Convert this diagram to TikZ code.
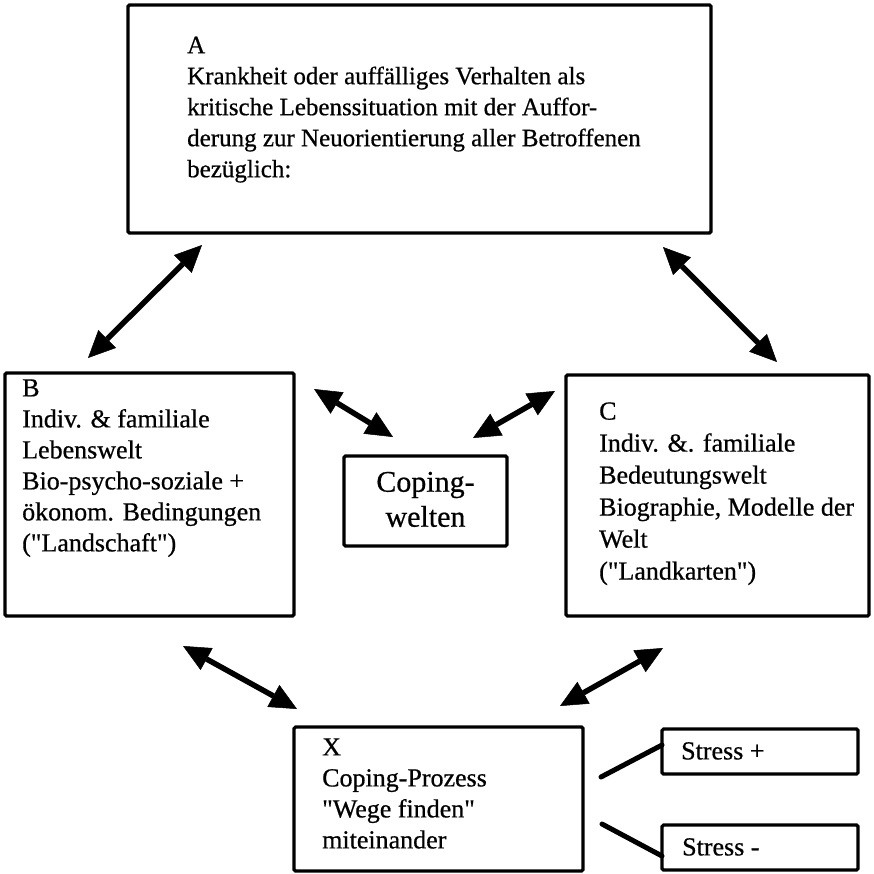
\documentclass[tikz,border=0pt]{standalone}
\usepackage{fontspec}
\setmainfont{Liberation Serif}[Ligatures=TeXOff, FakeBold=0.6]
\usetikzlibrary{arrows.meta}
\begin{document}
\begin{tikzpicture}[x=1pt,y=-1pt,
  box/.style={draw, line width=3.2pt, rounded corners=1.5pt, inner sep=0pt, outer sep=0pt},
  txt/.style={anchor=north west, inner sep=0pt, align=left, font=\fontsize{26}{31}\selectfont},
  txta/.style={txt, font=\fontsize{25}{31}\selectfont},
  txtc/.style={txt, font=\fontsize{26}{32}\selectfont},
  cop/.style={anchor=north, inner sep=0pt, align=center, font=\fontsize{30}{35}\selectfont},
  dbl/.style={line width=5.5pt, {Triangle[length=27pt,width=25pt,line width=0.5pt]}-{Triangle[length=27pt,width=25pt,line width=0.5pt]}},
  lnk/.style={line width=5pt, line cap=round}]
\useasboundingbox (0,0) rectangle (874,874);
\fill[white] (0,0) rectangle (874,874);
% boxes
\node[box, minimum width=583pt, minimum height=228pt] (A) at (419.5,119) {};
\node[box, minimum width=289pt, minimum height=243pt] (B) at (149.5,494.5) {};
\node[box, minimum width=303pt, minimum height=241pt] (C) at (717.5,495.5) {};
\node[box, minimum width=163pt, minimum height=90pt] (Cop) at (425.5,501) {};
\node[box, minimum width=289pt, minimum height=144pt] (X) at (438.5,799) {};
\node[box, minimum width=196pt, minimum height=45pt] (Sp) at (760,751.5) {};
\node[box, minimum width=196pt, minimum height=45pt] (Sm) at (760,847.5) {};
% texts
\node[txta] (At) at (187,31.3) {\strut A\\Krankheit oder auffälliges Verhalten als\\kritische Lebenssituation mit der Auffor-\\derung zur Neuorientierung aller Betroffenen\\bezüglich:};
\node[txt] (Bt) at (22,374.5) {\strut B\\Indiv. \& familiale\\Lebenswelt\\Bio-psycho-soziale +\\ökonom. Bedingungen\\("Landschaft")};
\node[txtc] (Ct) at (599,397) {\strut C\\Indiv. \&. familiale\\Bedeutungswelt\\Biographie, Modelle der\\Welt\\("Landkarten")};
\node[cop] (Copt) at (425.5,467) {\strut Coping-\\welten};
\node[txt] (Xt) at (322,733.5) {\strut X\\Coping-Prozess\\"Wege finden"\\miteinander};
\node[txt] (Spt) at (681,737.5) {\strut Stress +};
\node[txt] (Smt) at (682,833.5) {\strut Stress -};
% arrow end points
\coordinate (ab1) at (202,245); \coordinate (ab2) at (88,358);
\coordinate (ac1) at (663,247); \coordinate (ac2) at (777,362);
\coordinate (bc1) at (314,389); \coordinate (bc2) at (393,437);
\coordinate (cc1) at (555,391); \coordinate (cc2) at (473,438);
\coordinate (bx1) at (183,646); \coordinate (bx2) at (297,709);
\coordinate (cx1) at (663,648); \coordinate (cx2) at (560,706);
\coordinate (s1a) at (601,777); \coordinate (s1b) at (662,745);
\coordinate (s2a) at (602,824); \coordinate (s2b) at (662,856);
\draw[dbl] (ab1) -- (ab2);
\draw[dbl] (ac1) -- (ac2);
\draw[dbl] (bc1) -- (bc2);
\draw[dbl] (cc1) -- (cc2);
\draw[dbl] (bx1) -- (bx2);
\draw[dbl] (cx1) -- (cx2);
\draw[lnk] (s1a) -- (s1b);
\draw[lnk] (s2a) -- (s2b);
\end{tikzpicture}
\end{document}
